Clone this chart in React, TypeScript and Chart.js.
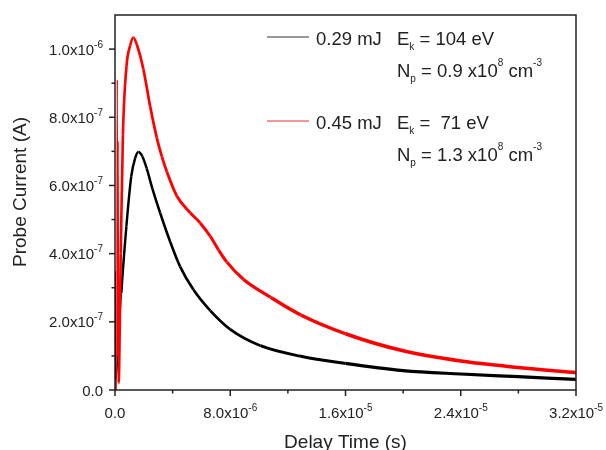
import { useEffect, useRef } from "react";
import { Chart, registerables } from "chart.js";

Chart.register(...registerables);

// ---- data (seconds, amperes) ----
const blackTime = [
  0, 0.02e-6, 0.05e-6, 0.1e-6, 0.2e-6, 0.44e-6, 0.79e-6, 1.13e-6, 1.4e-6, 1.62e-6, 1.9e-6,
  2.2e-6, 2.6e-6, 3.13e-6, 3.83e-6, 4.52e-6, 5.45e-6, 6.61e-6, 8.0e-6, 10.1e-6, 12.9e-6, 16e-6,
  20e-6, 24e-6, 28e-6, 32e-6,
];
const blackCurrent = [
  0, 3.5e-7, 0.3e-7, 0.4e-7, 1.0e-7, 2.84e-7, 4.8e-7, 6.27e-7, 6.8e-7, 6.98e-7, 6.85e-7,
  6.5e-7, 5.9e-7, 5.2e-7, 4.35e-7, 3.62e-7, 2.94e-7, 2.33e-7, 1.78e-7, 1.3e-7, 0.99e-7, 0.78e-7,
  0.57e-7, 0.47e-7, 0.39e-7, 0.31e-7,
];

const redTime = [
  0, 0.12e-6, 0.16e-6, 0.19e-6, 0.22e-6, 0.25e-6, 0.4e-6, 0.55e-6, 0.8e-6, 1.05e-6, 1.27e-6,
  1.5e-6, 1.97e-6, 2.45e-6, 2.9e-6, 3.25e-6, 3.6e-6, 4.29e-6, 5.22e-6, 5.91e-6, 6.61e-6,
  7.2e-6, 7.77e-6, 8.93e-6, 10.8e-6, 12.9e-6, 16e-6, 20e-6, 24e-6, 28e-6, 32e-6,
];
const redCurrent = [
  0, 0, 9.1e-7, 1.0e-7, 7.3e-7, 0.2e-7, 4.0e-7, 7.5e-7, 9.5e-7, 10.1e-7, 10.34e-7,
  10.15e-7, 9.41e-7, 8.3e-7, 7.4e-7, 6.85e-7, 6.4e-7, 5.69e-7, 5.2e-7, 4.9e-7, 4.51e-7,
  4.1e-7, 3.75e-7, 3.24e-7, 2.72e-7, 2.2e-7, 1.65e-7, 1.15e-7, 0.85e-7, 0.66e-7, 0.51e-7,
];

const xMajorTicks = [0, 8e-6, 1.6e-5, 2.4e-5, 3.2e-5];
const xMajorLabels = ["0.0", "8.0x10", "1.6x10", "2.4x10", "3.2x10"];
const xMajorExponents = ["", "-6", "-5", "-5", "-5"];
const xMinorTicks = [4e-6, 1.2e-5, 2e-5, 2.8e-5];

const yMajorTicks = [0, 2e-7, 4e-7, 6e-7, 8e-7, 1e-6];
const yMajorLabels = ["0.0", "2.0x10", "4.0x10", "6.0x10", "8.0x10", "1.0x10"];
const yMajorExponents = ["", "-7", "-7", "-7", "-7", "-6"];
const yMinorTicks = [1e-7, 3e-7, 5e-7, 7e-7, 9e-7];

const seriesNames = ["0.29 mJ", "0.45 mJ"];
const seriesColors = ["#000000", "#ff0000"];
const legendEk = ["104 eV", " 71 eV"];
const legendNp = ["0.9", "1.3"];

const xTitle = "Delay Time (s)";
const yTitle = "Probe Current (A)";

const FONT = "'Liberation Sans', Arial, sans-serif";
const INK = "#222222";

type Seg = { t: string; size: number; dy: number };

function drawRich(ctx: CanvasRenderingContext2D, segs: Seg[], x: number, y: number, align: "left" | "center" | "right") {
  let total = 0;
  const widths = segs.map((s) => {
    ctx.font = `${s.size}px ${FONT}`;
    const w = ctx.measureText(s.t).width;
    total += w;
    return w;
  });
  let cx = align === "left" ? x : align === "center" ? x - total / 2 : x - total;
  ctx.textAlign = "left";
  ctx.textBaseline = "alphabetic";
  segs.forEach((s, i) => {
    ctx.font = `${s.size}px ${FONT}`;
    ctx.fillText(s.t, cx, y + s.dy);
    cx += widths[i];
  });
  return cx;
}

const framePlugin = {
  id: "frame",
  afterDraw(chart: any) {
    const ctx: CanvasRenderingContext2D = chart.ctx;
    const area = chart.chartArea;
    const xs = chart.scales.x;
    const ys = chart.scales.y;
    ctx.save();
    ctx.strokeStyle = INK;
    ctx.fillStyle = INK;
    ctx.lineWidth = 1.5;
    ctx.strokeRect(area.left, area.top, area.right - area.left, area.bottom - area.top);

    xMajorTicks.forEach((v) => {
      const px = xs.getPixelForValue(v);
      ctx.beginPath();
      ctx.moveTo(px, area.bottom);
      ctx.lineTo(px, area.bottom + 6);
      ctx.stroke();
    });
    xMinorTicks.forEach((v) => {
      const px = xs.getPixelForValue(v);
      ctx.beginPath();
      ctx.moveTo(px, area.bottom);
      ctx.lineTo(px, area.bottom + 3.5);
      ctx.stroke();
    });
    yMajorTicks.forEach((v) => {
      const py = ys.getPixelForValue(v);
      ctx.beginPath();
      ctx.moveTo(area.left, py);
      ctx.lineTo(area.left - 6, py);
      ctx.stroke();
    });
    yMinorTicks.forEach((v) => {
      const py = ys.getPixelForValue(v);
      ctx.beginPath();
      ctx.moveTo(area.left, py);
      ctx.lineTo(area.left - 3.5, py);
      ctx.stroke();
    });

    xMajorTicks.forEach((v, i) => {
      const px = xs.getPixelForValue(v);
      drawRich(
        ctx,
        [
          { t: xMajorLabels[i], size: 15, dy: 0 },
          { t: xMajorExponents[i], size: 10, dy: -7 },
        ],
        px,
        area.bottom + 28,
        "center"
      );
    });
    yMajorTicks.forEach((v, i) => {
      const py = ys.getPixelForValue(v);
      drawRich(
        ctx,
        [
          { t: yMajorLabels[i], size: 15, dy: 0 },
          { t: yMajorExponents[i], size: 10, dy: -7 },
        ],
        area.left - 12,
        py + 5.5,
        "right"
      );
    });

    ctx.font = `19px ${FONT}`;
    ctx.textAlign = "center";
    ctx.textBaseline = "alphabetic";
    ctx.fillText(xTitle, (area.left + area.right) / 2, 448);
    ctx.save();
    ctx.translate(26, 192);
    ctx.rotate(-Math.PI / 2);
    ctx.fillText(yTitle, 0, 0);
    ctx.restore();

    // legend
    const baselines = [45, 129];
    seriesNames.forEach((name, i) => {
      const b = baselines[i];
      ctx.strokeStyle = i === 0 ? "#333333" : "#e8303a";
      ctx.lineWidth = 1;
      ctx.beginPath();
      ctx.moveTo(267, b - 8);
      ctx.lineTo(309, b - 8);
      ctx.stroke();
      ctx.fillStyle = INK;
      drawRich(ctx, [{ t: name, size: 18.5, dy: 0 }], 316, b, "left");
      drawRich(
        ctx,
        [
          { t: "E", size: 18.5, dy: 0 },
          { t: "k", size: 10, dy: 5 },
          { t: " = " + legendEk[i], size: 18.5, dy: 0 },
        ],
        397,
        b,
        "left"
      );
      drawRich(
        ctx,
        [
          { t: "N", size: 18.5, dy: 0 },
          { t: "p", size: 10, dy: 5 },
          { t: " = " + legendNp[i] + " x10", size: 18.5, dy: 0 },
          { t: "8", size: 10, dy: -11 },
          { t: " cm", size: 18.5, dy: 0 },
          { t: "-3", size: 10, dy: -11 },
        ],
        397,
        b + 32,
        "left"
      );
    });
    ctx.restore();
  },
};

export default function App() {
  const ref = useRef<HTMLCanvasElement | null>(null);
  useEffect(() => {
    document.body.style.margin = "0";
    const canvas = ref.current;
    if (!canvas) return;
    const widthFor = (ctx: any, base: number, tail: number) => {
      const x = ctx.p0.parsed.x;
      if (x < 2.5e-7) return 1.3;
      return base + (tail - base) * Math.min(1, x / 1.6e-5);
    };
    const chart = new Chart(canvas, {
      type: "line",
      data: {
        datasets: [
          {
            label: seriesNames[0],
            data: blackTime.map((t, i) => ({ x: t, y: blackCurrent[i] })),
            borderColor: seriesColors[0],
            borderWidth: 2.4,
            pointRadius: 0,
            cubicInterpolationMode: "monotone",
            order: 1,
            segment: { borderWidth: (c: any) => widthFor(c, 2.4, 3.2) },
          },
          {
            label: seriesNames[1],
            data: redTime.map((t, i) => ({ x: t, y: redCurrent[i] })),
            borderColor: seriesColors[1],
            borderWidth: 2.6,
            pointRadius: 0,
            cubicInterpolationMode: "monotone",
            order: 0,
            segment: { borderWidth: (c: any) => widthFor(c, 2.6, 3.6) },
          },
        ],
      },
      options: {
        responsive: false,
        animation: false,
        layout: { padding: { left: 115, top: 15, right: 30, bottom: 60 } },
        plugins: { legend: { display: false }, tooltip: { enabled: false } },
        scales: {
          x: { type: "linear", min: 0, max: 3.2e-5, display: false },
          y: { type: "linear", min: 0, max: 1.1e-6, display: false },
        },
      },
      plugins: [framePlugin],
    } as any);
    return () => chart.destroy();
  }, []);
  return (
    <div style={{ width: 606, height: 450, background: "#fff" }}>
      <canvas ref={ref} width={606} height={450} style={{ display: "block" }} />
    </div>
  );
}
